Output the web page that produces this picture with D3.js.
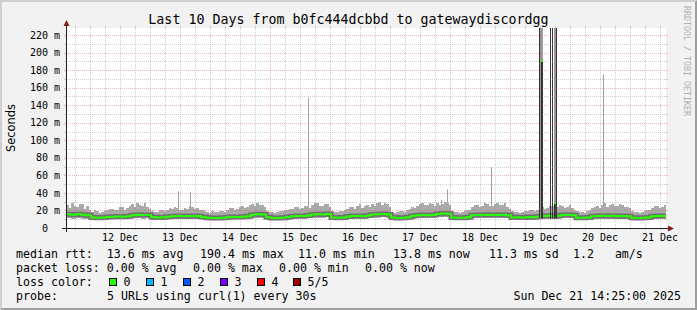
<!DOCTYPE html>
<html><head><meta charset="utf-8">
<script src="https://cdn.jsdelivr.net/npm/d3@7"></script>
<style>
body{margin:0;background:#f2f2f2}
svg{display:block}
text{font-family:"DejaVu Sans Mono",monospace;fill:#000;white-space:pre}
</style>
</head><body><svg id="c" width="697" height="310"></svg>
<script>
// ---------- data ----------
const title = "Last 10 Days from b0fc444dcbbd to gatewaydiscordgg";
const startTime = "2025-12-11T14:25";
const endTime = "2025-12-21T14:25";
const sampleHours = 2;           // median / lower smoke: one sample every 2 hours from startTime
const highHours = 1;             // upper smoke edge: one sample every hour from startTime
const yMax = 228;                // ms

// median rtt (ms)
const median = [
 15.6,15.2,15.8,15.0,14.6, 11.9,11.6,12.0, 12.6,12.9,13.2,12.8,13.4, 14.6,15.0,14.7,14.9,
 12.4,12.0,12.3,12.9, 13.4,13.7,13.3,13.8,13.5,13.6, 12.6, 11.6,11.3,11.5,11.8,
 12.3,12.6,12.4,12.9,13.3, 15.2,15.8,15.4, 12.2,11.5,11.4,11.7,12.4, 13.3,13.8,13.6,14.2,
 15.4,15.8,15.5,15.9, 12.0,11.7,12.1, 13.2,13.6,13.8,13.5,14.2, 15.3,15.8,15.9,15.5,
 12.0,11.5,11.7,12.2, 14.0,14.4,14.8,14.5,14.9, 16.0,16.5,16.2, 12.0,11.6,11.8,12.3,
 14.4,14.8,15.0,14.7,15.2,14.9,15.1,14.6, 12.0,12.3,11.9,12.4,12.2,12.8,
 13.6,13.9,13.5,14.0, 14.8,15.0,14.6, 11.8,11.6,12.0,
 13.4,13.7,14.0,13.6,13.9,13.5,13.8,13.4, 11.8,11.5,11.7,12.1, 13.5,13.8,13.6,13.8
];
// upper edge of the smoke (ms), hourly
const smokeHigh = [
 26,23,29,25,24,27,27,22,25,21, 18.5,20,19,17.5,18,19.5,
 20,21.5,22,20,21,23.5,24,21,23,25, 27,24,29,26,25,28,24,22,
 19,18,18.5,20,20,19,21,22.5, 22,24,23,21,21,23,22,25,24,22,23,21, 21,19.5,
 18.5,17.5,19,18,18,19.5,19.5,18.5, 21,22.5,23,21,22,24,25,23,24,26, 27,25,28,26,26,24,
 19,18,18.5,17.5,18,19,19,20.5,20,21.5, 22,24.5,24,22,23,25.5,25,23, 26,28.5,28,25,25,27,27,24,
 19,18,18.5,19.5,19,20, 22,23.5,24,22,25,27,23,25,26,24, 27,25,28,29.5,26,28,27,24,
 18.5,17.5,18,19,19,18,20,21.5, 24,22.5,25,27,28,26,26,29,27,25, 28,26,27,30,29,26,
 19,18,18.5,17.5,18,19.5,20,21, 24,26,26,24,25,28,27,25,25,27.5,28,26,26,29,24,22,
 19,18,18.5,17.5,18,19,19,20.5,20,19,21,22.5, 24,22,23,25.5,25,23,24,26, 25,23,24,26,23,21,
 19,18,18.5,17.5,19,20.5, 23,24.5,25,23,26,28,24,26,27,25,25,27,26,24,24,22.5,
 19,18,18.5,17.5,18,19.5,20,21, 23,25,25,23,24,26,23
];
// lower edge of the smoke (ms)
const smokeLow = [
 11,10.5,11,10.8,10.5, 9.2,9,9.3, 9.8,10,10.2,9.9,10.3, 11,11.2,10.8,11,
 9.5,9.2,9.4,9.8, 10.3,10.5,10.2,10.6,10.4,10.5, 9.8, 9,8.8,9,9.2,
 9.6,9.8,9.7,10,10.3, 11.5,11.8,11.6, 9.5,9,8.9,9.1,9.6, 10.3,10.6,10.5,10.9,
 11.6,11.9,11.7,12, 9.4,9.1,9.5, 10.2,10.5,10.7,10.4,11, 11.5,11.9,12,11.7,
 9.4,9,9.1,9.6, 10.8,11.1,11.4,11.2,11.5, 12.2,12.5,12.3, 9.4,9.1,9.2,9.6,
 11.1,11.4,11.6,11.3,11.7,11.5,11.6,11.2, 9.4,9.6,9.3,9.7,9.5,10,
 10.5,10.7,10.4,10.8, 11.4,11.6,11.2, 9.2,9,9.4,
 10.4,10.6,10.8,10.5,10.7,10.4,10.6,10.3, 9.2,9,9.1,9.5, 10.4,10.6,10.5,10.6
];
// isolated single-sample spikes of the smoke
const spikeTime  = ["2025-12-13T11:13","2025-12-13T16:01","2025-12-15T15:13","2025-12-17T20:25","2025-12-17T22:49","2025-12-18T16:25","2025-12-20T13:13"];
const spikeValue = [42, 41, 149, 32, 44, 69, 175];
// outage-like event on 19 Dec (per-pixel samples)
const eventTime   = ["2025-12-19T11:37","2025-12-19T12:01","2025-12-19T12:25","2025-12-19T12:49","2025-12-19T16:01","2025-12-19T17:13","2025-12-19T17:37","2025-12-19T18:01","2025-12-19T18:25"];
const eventTop    = [250, 250, 250, 250, 250, 250, 250, 250, 250];
const eventDark   = [250, 0, 190.4, 190.4, 250, 250, 29, 29, 250];
const eventMedian = [null, null, 190.4, 190.4, null, null, 28.5, 28.5, null];

const yTicks = [0,20,40,60,80,100,120,140,160,180,200,220];
const yTickNumbers = ["0","20","40","60","80","100","120","140","160","180","200","220"];
const yTickUnits = ["","m","m","m","m","m","m","m","m","m","m","m"];
const xTickLabels = ["12 Dec","13 Dec","14 Dec","15 Dec","16 Dec","17 Dec","18 Dec","19 Dec","20 Dec","21 Dec"];
const lossLabels = ["0","1","2","3","4","5/5"];
const lossColors = ["#26ff00","#00b8ff","#0059ff","#7e00ff","#ff0000","#a10000"];
const legendRtt  = ["median rtt:  13.6 ms avg","190.4 ms max","11.0 ms min","13.8 ms now","11.3 ms sd","1.2   am/s"];
const legendLoss = ["packet loss: 0.00 % avg","0.00 % max","0.00 % min","0.00 % now"];
const probeText = "5 URLs using curl(1) every 30s";
const stampText = "Sun Dec 21 14:25:00 2025";
const watermark = "RRDTOOL / TOBI OETIKER";

// ---------- layout ----------
const W = 697, H = 310;
const X0 = 66, X1 = 666, Y0 = 228, Y1 = 28;
const parse = d3.utcParse("%Y-%m-%dT%H:%M");
const t0 = parse(startTime), t1 = parse(endTime);
const x = d3.scaleUtc().domain([t0, t1]).range([X0, X1]);
const y = d3.scaleLinear().domain([0, yMax]).range([Y0, Y1]);
const svg = d3.select("#c");

// background + 3d frame
svg.append("rect").attr("width", W).attr("height", H).attr("fill", "#f2f2f2");
svg.append("path").attr("d", `M0,0H${W}L${W-2},2H2V${H-2}L0,${H}Z`).attr("fill", "#cfcfcf");
svg.append("path").attr("d", `M${W},0V${H}H0L2,${H-2}H${W-2}V2Z`).attr("fill", "#9e9e9e");
// canvas
svg.append("rect").attr("x", X0).attr("y", Y1).attr("width", X1 - X0).attr("height", Y0 - Y1).attr("fill", "#fff");
svg.append("clipPath").attr("id", "cp").append("rect").attr("x", X0).attr("y", Y1).attr("width", X1 - X0).attr("height", Y0 - Y1);
const plot = svg.append("g").attr("clip-path", "url(#cp)");

const samples = median.map((m, i) => ({t: d3.utcHour.offset(t0, i * sampleHours), m, lo: smokeLow[i]}));
const highSamples = smokeHigh.map((h, i) => ({
  t: d3.utcHour.offset(t0, i * highHours), hi: h,
  lo: smokeLow[Math.min(smokeLow.length - 1, Math.floor(i * highHours / sampleHours))]
}));

// spikes
spikeTime.forEach((s, i) => {
  const px = Math.floor(x(parse(s)));
  plot.append("rect").attr("x", px).attr("width", 1)
    .attr("y", y(spikeValue[i])).attr("height", y(12) - y(spikeValue[i])).attr("fill", "#a3a3a3");
});
// smoke
plot.append("path").datum(highSamples)
  .attr("d", d3.area().curve(d3.curveStepAfter).x(d => x(d.t)).y0(d => y(d.lo)).y1(d => y(d.hi)))
  .attr("fill", "#aaaaaa").attr("shape-rendering", "crispEdges");
// dark inner band around median
const medLine = d3.line().curve(d3.curveStepAfter).x(d => x(d.t)).y(d => y(d.m));
plot.append("path").datum(samples).attr("d", medLine)
  .attr("fill", "none").attr("stroke", "#707070").attr("stroke-width", 5);
// median line (loss 0 colour)
plot.append("path").datum(samples).attr("d", medLine)
  .attr("fill", "none").attr("stroke", lossColors[0]).attr("stroke-width", 2);

// event columns
eventTime.forEach((s, i) => {
  const px = Math.floor(x(parse(s)));
  plot.append("rect").attr("x", px).attr("width", 1)
    .attr("y", y(eventTop[i])).attr("height", y(11) - y(eventTop[i])).attr("fill", "#9a9a9a");
  if (eventDark[i] > 0)
    plot.append("rect").attr("x", px).attr("width", 1)
      .attr("y", y(eventDark[i])).attr("height", y(11) - y(eventDark[i])).attr("fill", "#333");
  if (eventMedian[i] != null)
    plot.append("rect").attr("x", px).attr("width", 1)
      .attr("y", y(eventMedian[i]) - 1).attr("height", 2).attr("fill", lossColors[0]);
});

// grid (drawn over the graph, as rrdtool does)
const minorCol = "rgba(140,140,140,0.42)", majorCol = "rgba(222,79,79,0.38)";
const grid = svg.append("g").attr("shape-rendering", "crispEdges");
const majorX = d3.utcDay.range(t0, t1);
const minorX = d3.utcHour.every(6).range(t0, t1).filter(d => d.getUTCHours() !== 0);
function vline(d, col) {
  const px = Math.round(x(d)) + 0.5;
  grid.append("line").attr("x1", px).attr("x2", px).attr("y1", Y1).attr("y2", Y0)
    .attr("stroke", col).attr("stroke-dasharray", "1,1");
  grid.append("line").attr("x1", px).attr("x2", px).attr("y1", Y1 - 2).attr("y2", Y1).attr("stroke", col);
  grid.append("line").attr("x1", px).attr("x2", px).attr("y1", Y0).attr("y2", Y0 + 2).attr("stroke", col);
}
minorX.forEach(d => vline(d, minorCol));
majorX.forEach(d => vline(d, majorCol));
function hline(v, col) {
  const py = Math.round(y(v)) + 0.5;
  grid.append("line").attr("x1", X0).attr("x2", X1).attr("y1", py).attr("y2", py)
    .attr("stroke", col).attr("stroke-dasharray", "1,1");
  grid.append("line").attr("x1", X0 - 2).attr("x2", X0).attr("y1", py).attr("y2", py).attr("stroke", col);
  grid.append("line").attr("x1", X1).attr("x2", X1 + 2).attr("y1", py).attr("y2", py).attr("stroke", col);
}
d3.range(10, yMax, 20).forEach(v => hline(v, minorCol));
yTicks.filter(v => v > 0).forEach(v => hline(v, majorCol));

// axes + arrows
svg.append("line").attr("x1", X0 - 4).attr("x2", X1 + 4).attr("y1", Y0 + 0.5).attr("y2", Y0 + 0.5)
  .attr("stroke", "#1f1f1f").attr("shape-rendering", "crispEdges");
svg.append("line").attr("x1", X0 + 0.5).attr("x2", X0 + 0.5).attr("y1", Y0 + 4).attr("y2", Y1 - 4)
  .attr("stroke", "#1f1f1f").attr("shape-rendering", "crispEdges");
svg.append("path").attr("d", `M${X1+2},${Y0-2.5}V${Y0+3.5}L${X1+8},${Y0+0.5}Z`).attr("fill", "#801f1f");
svg.append("path").attr("d", `M${X0-2.5},${Y1-2}H${X0+3.5}L${X0+0.5},${Y1-8}Z`).attr("fill", "#801f1f");

// y labels
yTicks.forEach((v, i) => {
  const py = y(v) + 3.6;
  svg.append("text").attr("x", 48).attr("y", py).attr("text-anchor", "end")
    .style("font-size", "10px").text(yTickNumbers[i]);
  if (yTickUnits[i]) svg.append("text").attr("x", 54).attr("y", py).style("font-size", "10px").text(yTickUnits[i]);
});
// x labels (centered at noon)
majorX.forEach((d, i) => {
  svg.append("text").attr("x", x(d3.utcHour.offset(d, 12))).attr("y", 241)
    .attr("text-anchor", "middle").style("font-size", "10px").text(xTickLabels[i]);
});
// unit label
svg.append("text").attr("transform", "translate(15,128) rotate(-90)").attr("text-anchor", "middle")
  .style("font-family", "'DejaVu Sans',sans-serif").style("font-size", "11.4px").text("Seconds");
// title
svg.append("text").attr("x", W / 2).attr("y", 23.5).attr("text-anchor", "middle")
  .style("font-size", "13.3px").text(title);
// watermark
svg.append("text").attr("transform", "translate(684,61) rotate(90)").attr("text-anchor", "middle")
  .style("font-size", "8.3px").style("fill", "#b0b0b0").text(watermark);

// legend
const lf = "11.6px";
const rttX = [16, 200, 298, 393, 489, 573];
legendRtt.forEach((s, i) => svg.append("text").attr("x", rttX[i]).attr("y", 258).style("font-size", lf).text(s));
const lossX = [16, 193, 279, 365];
legendLoss.forEach((s, i) => svg.append("text").attr("x", lossX[i]).attr("y", 272).style("font-size", lf).text(s));
svg.append("text").attr("x", 16).attr("y", 286).style("font-size", lf).text("loss color:");
const boxX = [109, 146, 183, 220, 257, 293];
lossLabels.forEach((s, i) => {
  svg.append("rect").attr("x", boxX[i] + 0.5).attr("y", 278.5).attr("width", 7).attr("height", 7)
    .attr("fill", lossColors[i]).attr("stroke", "#000").attr("stroke-width", 1);
  svg.append("text").attr("x", boxX[i] + 14.5).attr("y", 286).style("font-size", lf).text(s);
});
svg.append("text").attr("x", 16).attr("y", 300).style("font-size", lf).text("probe:");
svg.append("text").attr("x", 107).attr("y", 300).style("font-size", lf).text(probeText);
svg.append("text").attr("x", 681).attr("y", 300).attr("text-anchor", "end").style("font-size", lf).text(stampText);
</script>
</body></html>
